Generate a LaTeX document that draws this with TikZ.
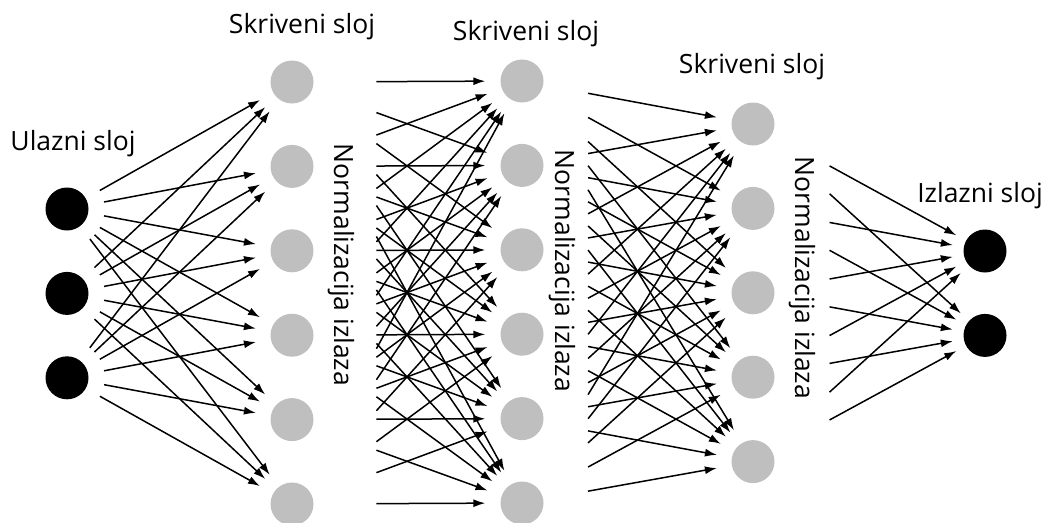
\documentclass[tikz,border=0pt]{standalone}
\usepackage{fontspec}
\setmainfont{Open Sans}
\usetikzlibrary{arrows.meta,positioning,calc}
\tikzset{
    %Define standard arrow tip
    >={Latex[length=12pt,width=8pt]},
    %Define style for neurons
    endlayer/.style={
           circle,
           fill=black,
           minimum size=43pt,
           inner sep=0pt},
    midlayer/.style={
           circle,
           fill=black!25,
           minimum size=43pt,
           inner sep=0pt},
    % Define style for texts
    layername/.style={
           font=\fontsize{26.5}{30}\selectfont,
           anchor=base,
           inner sep=0pt},
    normname/.style={
           font=\fontsize{26.5}{30}\selectfont,
           rotate=-90,
           inner sep=0pt},
    % Define arrow style
    syn/.style={
           ->,
           line width=1.5pt,
           shorten >=15pt}
}
\begin{document}
\begin{tikzpicture}[x=1pt,y=-1pt,node distance=41pt]
\useasboundingbox (0,0) rectangle (1051,522);

 %nodes
\node[endlayer] (in1) at (67,209) {};
\node[endlayer, below=of in1] (in2) {};
\node[endlayer, below=of in2] (in3) {};
\node[midlayer] (ha1) at (292,82) {};
\foreach \i [count=\j from 2] in {1,...,5}
    \node[midlayer, below=of ha\i] (ha\j) {};
\node[midlayer] (hb1) at (522,81) {};
\foreach \i [count=\j from 2] in {1,...,5}
    \node[midlayer, below=of hb\i] (hb\j) {};
\node[midlayer] (hc1) at (753,124) {};
\foreach \i [count=\j from 2] in {1,...,4}
    \node[midlayer, below=of hc\i] (hc\j) {};
\node[endlayer] (out1) at (985,251) {};
\node[endlayer, below=of out1] (out2) {};

 %texts
\node[layername] (lin) at (73,150) {Ulazni sloj};
\node[layername] (lha) at (302,33) {Skriveni sloj};
\node[layername] (lhb) at (526,40) {Skriveni sloj};
\node[layername] (lhc) at (752,73) {Skriveni sloj};
\node[layername] (lout) at (980,202) {Izlazni sloj};
\node[normname] (nha) at (341,265) {Normalizacija izlaza};
\node[normname] (nhb) at (562,271) {Normalizacija izlaza};
\node[normname] (nhc) at (802,278) {Normalizacija izlaza};

 %edges
\foreach \i in {1,2,3}
  \foreach \j in {1,...,6}
    \draw[syn, shorten <=16pt] (in\i) -- (ha\j);
\foreach \i in {1,...,6}
  \foreach \j in {1,...,6}
    \draw[syn] ($(ha\i)!0.367!(hb\j)$) -- (hb\j);
\foreach \i in {1,...,6}
  \foreach \j in {1,...,5}
    \draw[syn] ($(hb\i)!0.286!(hc\j)$) -- (hc\j);
\foreach \i in {1,...,5}
  \foreach \j in {1,2}
    \draw[syn, shorten >=11pt] ($(hc\i)!0.33!(out\j)$) -- (out\j);

\end{tikzpicture}
\end{document}
